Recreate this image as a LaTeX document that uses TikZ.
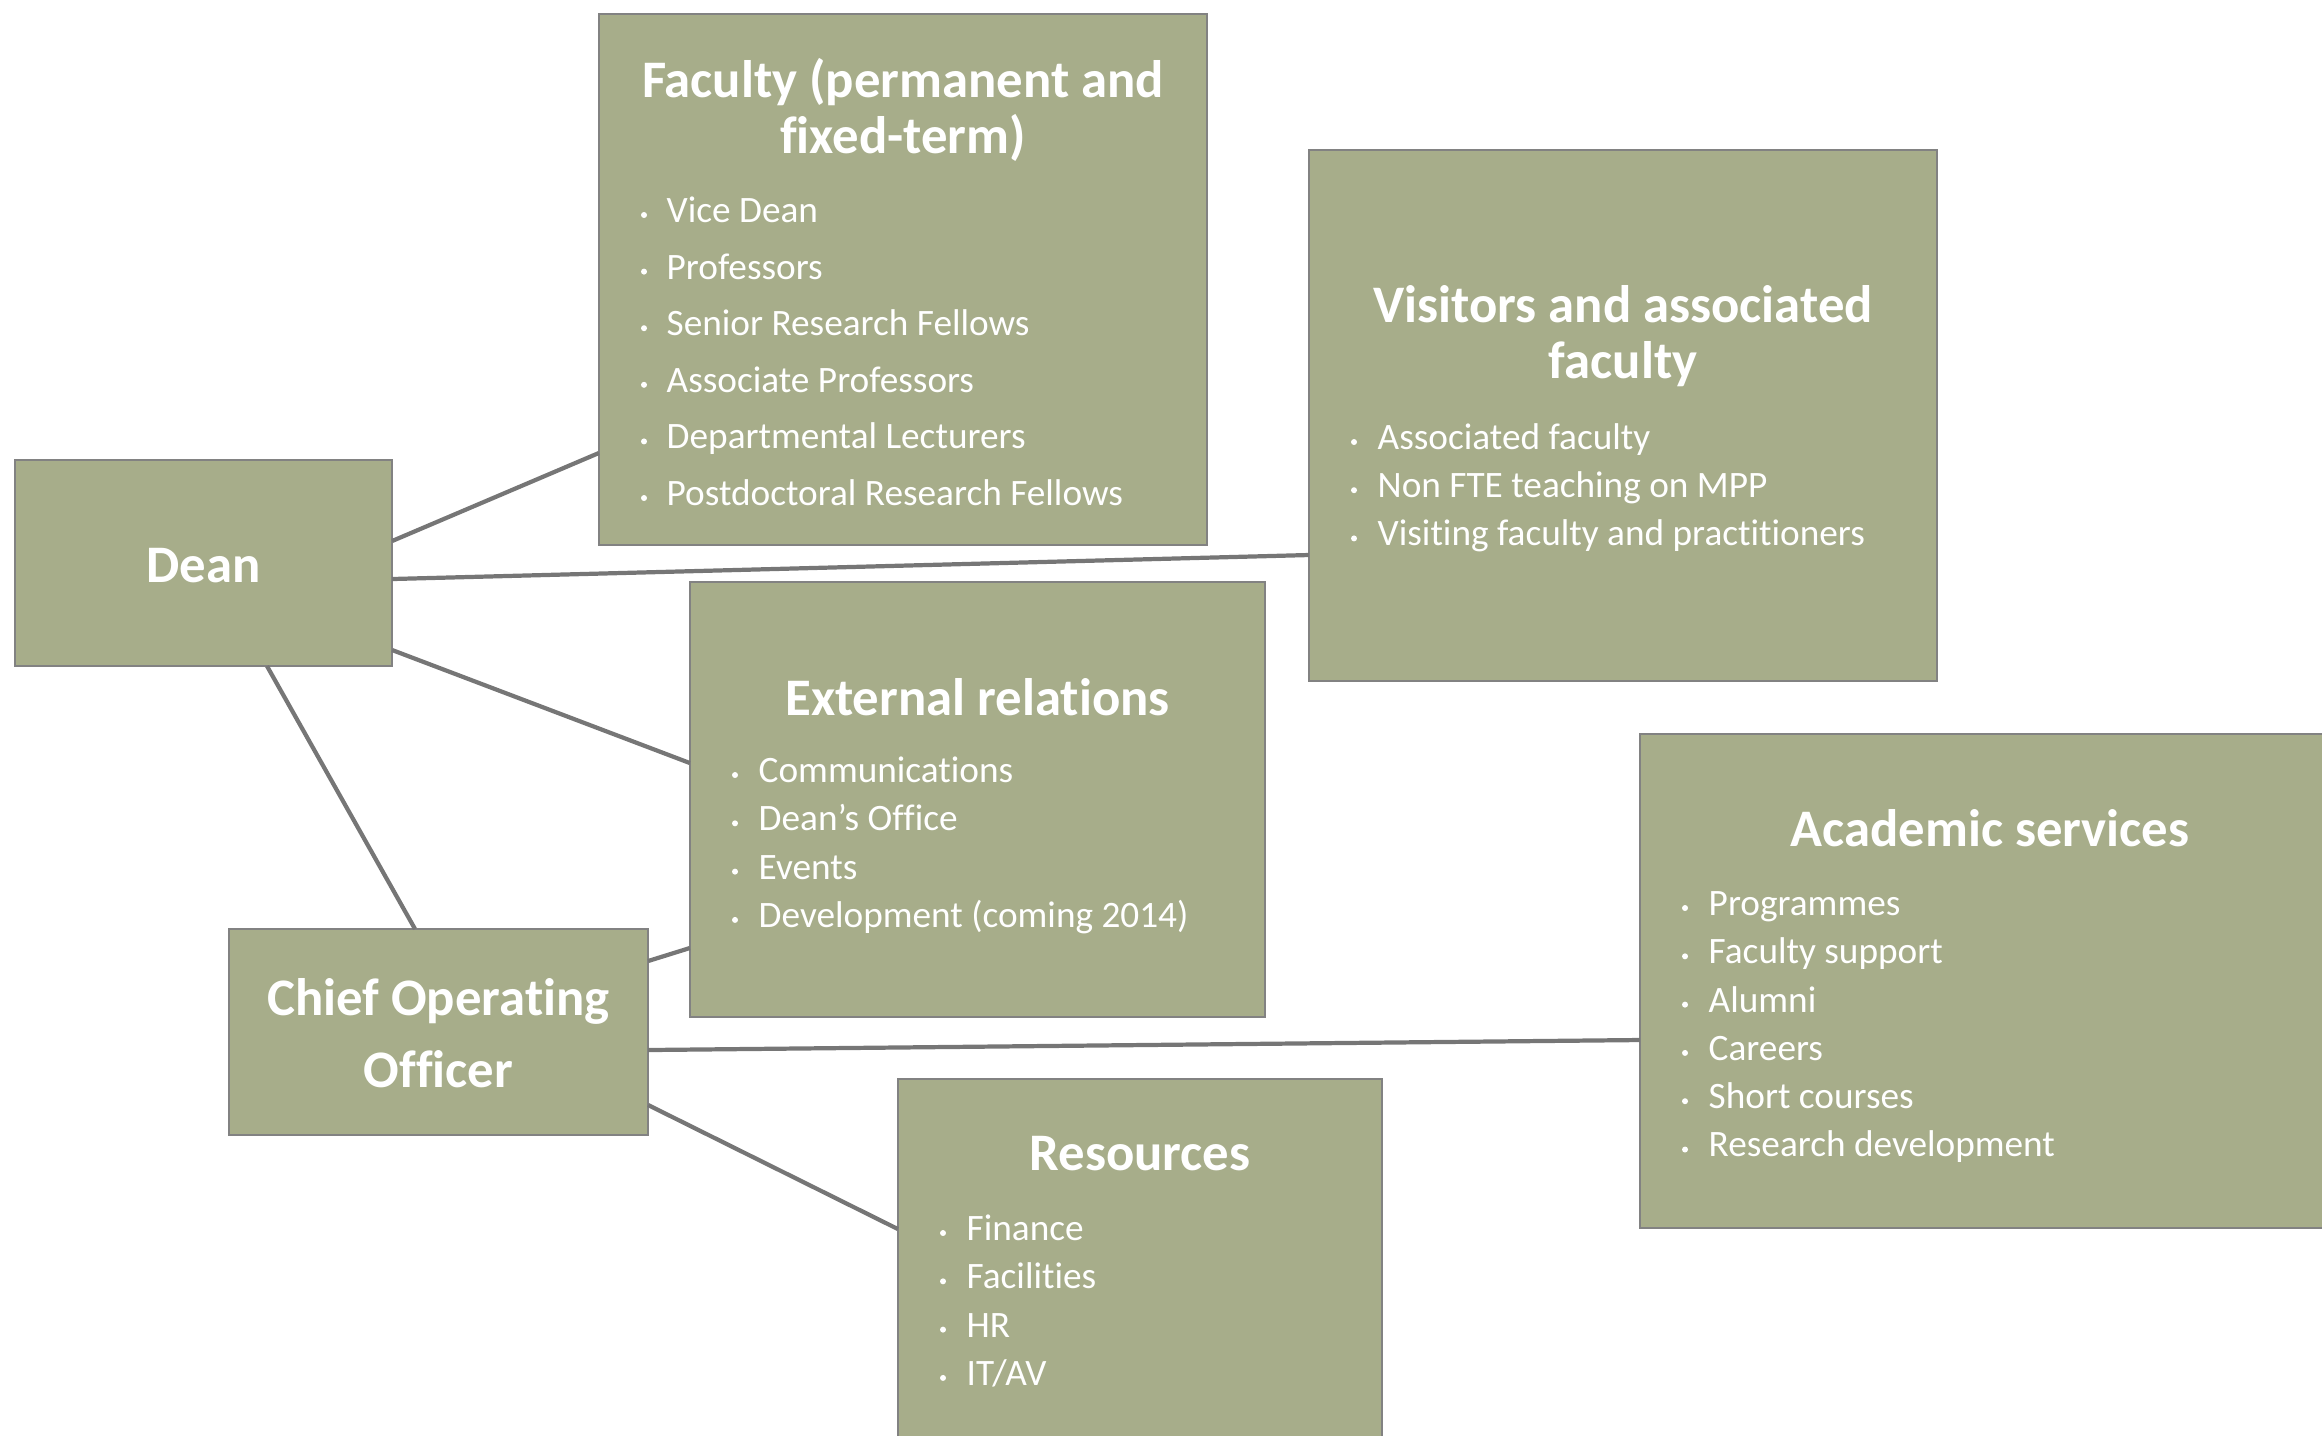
\documentclass[tikz,border=0pt]{standalone}
\usepackage{fontspec}
\setmainfont{Carlito}[Ligatures=NoCommon]
\usetikzlibrary{calc}
\definecolor{boxfill}{RGB}{167,173,138}
\definecolor{boxline}{RGB}{130,130,130}
\definecolor{connc}{RGB}{118,118,118}
\begin{document}
\begin{tikzpicture}[x=0.01cm,y=-0.01cm,
 box/.style={draw=boxline, line width=0.6pt, fill=boxfill, inner sep=0pt, outer sep=0pt},
 ttl/.style={text=white, font=\fontsize{15}{16}\selectfont\bfseries, align=center, inner sep=0pt},
 itm/.style={text=white, font=\fontsize{10.6}{12}\selectfont, anchor=mid west, inner sep=0pt},
 bul/.style={circle, fill=white, minimum size=0.06cm, inner sep=0pt},
 link/.style={draw=connc, line width=1.2pt}]
\useasboundingbox (0,0) rectangle (2322,1435);

% boxes
\node[box, minimum width=3.77cm, minimum height=2.06cm] (dean) at (203.5,563) {};
\node[box, minimum width=6.08cm, minimum height=5.31cm] (fac) at (903,279.5) {};
\node[box, minimum width=6.28cm, minimum height=5.31cm] (vis) at (1623,415.5) {};
\node[box, minimum width=5.75cm, minimum height=4.35cm] (ext) at (977.5,799.5) {};
\node[box, minimum width=7.00cm, minimum height=4.94cm] (acad) at (1990,981) {};
\node[box, minimum width=4.19cm, minimum height=2.06cm] (coo) at (438.5,1032) {};
\node[box, minimum width=4.84cm, minimum height=3.71cm] (res) at (1140,1264.5) {};

% connectors
\draw[link] (dean.east |- 0,541) -- (fac.west |- 0,453);
\draw[link] (dean.east |- 0,579) -- (vis.west |- 0,555);
\draw[link] (dean.east |- 0,650) -- (ext.west |- 0,763);
\draw[link] (dean.south -| 267,0) -- (coo.north -| 415,0);
\draw[link] (coo.east |- 0,961) -- (ext.west |- 0,948);
\draw[link] (coo.east |- 0,1050) -- (acad.west |- 0,1040);
\draw[link] (coo.east |- 0,1105) -- (res.west |- 0,1229);

% titles
\node[ttl] (dean-t) at (203.5,566) {Dean};
\node[ttl, font=\fontsize{15}{20.6}\selectfont\bfseries] (coo-t) at (438.5,1033) {Chief Operating\\Officer};
\node[ttl] (fac-t) at (903,110) {Faculty (permanent and\\fixed-term)};
\node[ttl] (vis-t) at (1623,336) {Visitors and associated\\faculty};
\node[ttl] (ext-t) at (977.5,697) {External relations};
\node[ttl] (acad-t) at (1990,828) {Academic services};
\node[ttl] (res-t) at (1140,1154) {Resources};

% items
\foreach \t [count=\i] in {Vice Dean, Professors, Senior Research Fellows, Associate Professors, Departmental Lecturers, Postdoctoral Research Fellows} {
  \node[bul] (fac-b\i) at ({644},{215+56.6*(\i-1)}) {};
  \node[itm] (fac-i\i) at ({666},{214+56.6*(\i-1)}) {\t};
}
\foreach \t [count=\i] in {Associated faculty, Non FTE teaching on MPP, Visiting faculty and practitioners} {
  \node[bul] (vis-b\i) at ({1354},{442+48.2*(\i-1)}) {};
  \node[itm] (vis-i\i) at ({1377},{441+48.2*(\i-1)}) {\t};
}
\foreach \t [count=\i] in {Communications, Dean’s Office, Events, Development (coming 2014)} {
  \node[bul] (ext-b\i) at ({735},{775+48.3*(\i-1)}) {};
  \node[itm] (ext-i\i) at ({758},{774+48.3*(\i-1)}) {\t};
}
\foreach \t [count=\i] in {Programmes, Faculty support, Alumni, Careers, Short courses, Research development} {
  \node[bul] (acad-b\i) at ({1685},{908+48.3*(\i-1)}) {};
  \node[itm] (acad-i\i) at ({1708},{907+48.3*(\i-1)}) {\t};
}
\foreach \t [count=\i] in {Finance, Facilities, HR, IT/AV} {
  \node[bul] (res-b\i) at ({943},{1233+48.3*(\i-1)}) {};
  \node[itm] (res-i\i) at ({966},{1232+48.3*(\i-1)}) {\t};
}
\end{tikzpicture}
\end{document}
